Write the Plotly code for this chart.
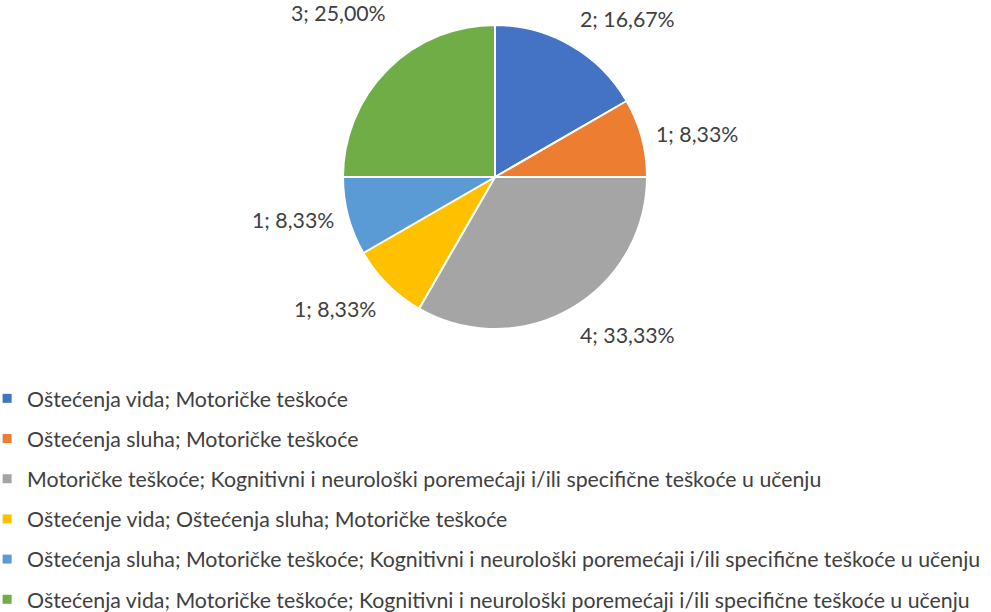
import math
import plotly.graph_objects as go

# ---- data ----
categories = [
    "Oštećenja vida; Motoričke teškoće",
    "Oštećenja sluha; Motoričke teškoće",
    "Motoričke teškoće; Kognitivni i neurološki poremećaji i/ili specifične teškoće u učenju",
    "Oštećenje vida; Oštećenja sluha; Motoričke teškoće",
    "Oštećenja sluha; Motoričke teškoće; Kognitivni i neurološki poremećaji i/ili specifične teškoće u učenju",
    "Oštećenja vida; Motoričke teškoće; Kognitivni i neurološki poremećaji i/ili specifične teškoće u učenju",
]
counts = [2, 1, 4, 1, 1, 3]
colors = ["#4472C4", "#ED7D31", "#A5A5A5", "#FFC000", "#5B9BD5", "#70AD47"]

# ---- layout constants ----
W, H = 991, 612
CX, CY, R = 495, 177, 152
FONT = "Lato, Carlito, Calibri, sans-serif"
TXT = "#404040"
FS = 21.3

fig = go.Figure()
fig.add_trace(go.Pie(
    labels=categories, values=counts, sort=False, direction="clockwise",
    marker=dict(colors=colors, line=dict(color="white", width=2)),
    textinfo="none", hoverinfo="label+value+percent", showlegend=False,
    domain=dict(x=[(CX - R) / W, (CX + R) / W], y=[1 - (CY + R) / H, 1 - (CY - R) / H]),
))

# legend entries via placeholder traces (one group each for spacing)
for i, (c, col) in enumerate(zip(categories, colors)):
    fig.add_trace(go.Scatter(
        x=[None], y=[None], mode="markers", name=c, legendgroup=f"g{i}",
        marker=dict(symbol="square", size=9, color=col),
    ))

# data labels
total = sum(counts)
nudge = {5: (10, -32)}
annotations = []
cum = 0
for i, v in enumerate(counts):
    mid = (cum + v / 2) / total * 2 * math.pi
    cum += v
    s, c = math.sin(mid), math.cos(mid)
    px = CX + (R + 13) * s
    py = CY - (R + 13) * c
    dx, dy = nudge.get(i, (0, 0))
    px += dx
    py += dy
    xa = "left" if s > 0.3 else ("right" if s < -0.3 else "center")
    ya = "bottom" if c > 0.3 else ("top" if c < -0.3 else "middle")
    pct = f"{v / total * 100:.2f}".replace(".", ",")
    annotations.append(dict(
        x=px / W, y=1 - py / H, xref="paper", yref="paper",
        text=f"{v}; {pct}%", showarrow=False, xanchor=xa, yanchor=ya,
        font=dict(family=FONT, size=FS, color=TXT),
    ))

fig.update_layout(
    width=W, height=H, margin=dict(l=0, r=0, t=0, b=0, autoexpand=False),
    paper_bgcolor="white", plot_bgcolor="white",
    xaxis=dict(visible=False), yaxis=dict(visible=False),
    annotations=annotations,
    legend=dict(
        x=-0.013, y=1 - 378 / H, xanchor="left", yanchor="top",
        font=dict(family=FONT, size=FS, color=TXT),
        tracegroupgap=9.5, bgcolor="rgba(0,0,0,0)",
    ),
    showlegend=True,
)

fig.write_html("out.html", config={"displayModeBar": False},
               post_script="document.body.style.margin='0';")
